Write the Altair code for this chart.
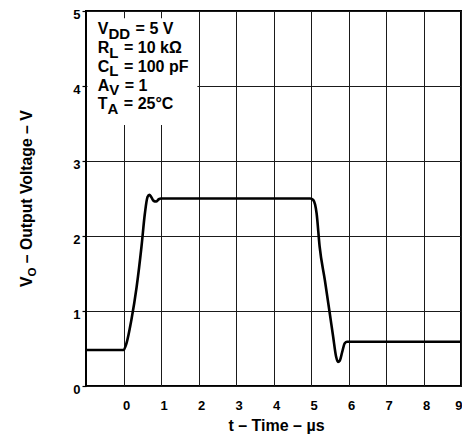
import altair as alt
import pandas as pd

# ---- data ----
t_us = [-1.0, 0.0, 0.08, 0.21, 0.35, 0.48, 0.57, 0.64, 0.69, 0.74, 0.80, 0.87, 0.94, 1.0,
        4.98, 5.06, 5.15, 5.23, 5.37, 5.50, 5.59, 5.67, 5.72, 5.77, 5.83, 5.90, 5.96, 9.0]
vo = [0.48, 0.48, 0.57, 0.88, 1.32, 1.86, 2.30, 2.52, 2.55, 2.52, 2.47, 2.46, 2.49, 2.50,
      2.50, 2.48, 2.30, 1.86, 1.41, 0.97, 0.66, 0.39, 0.32, 0.34, 0.45, 0.57, 0.59, 0.59]
x_ticks = [0, 1, 2, 3, 4, 5, 6, 7, 8, 9]
y_ticks = [0, 1, 2, 3, 4, 5]

cond_main = ["V", "R", "C", "A", "T"]
cond_sub = ["DD", "L", "L", "V", "A"]
cond_rest = ["= 5 V", "= 10 k\u03a9", "= 100 pF", "= 1", "= 25\u00b0C"]

FONT = "Liberation Sans"
# Arial-bold advance widths (em) used to place subscripts
W = {"V": .667, "D": .722, "R": .722, "L": .611, "C": .722, "A": .722, "T": .611, "O": .778,
     " ": .278}

def width(s, size):
    return sum(W[c] for c in s) * size

df = pd.DataFrame({"t": t_us, "v": vo})

xs = alt.Scale(domain=[-1, 9], nice=False, zero=False)
ys = alt.Scale(domain=[0, 5], nice=False, zero=False)

line = alt.Chart(df).mark_line(color="black", strokeWidth=2.6, interpolate="monotone").encode(
    x=alt.X("t:Q", scale=xs, title=None,
            axis=alt.Axis(values=x_ticks, grid=True, gridColor="#1a1a1a", gridWidth=1,
                          domain=False, tickSize=0, labelPadding=13, format="d",
                          labelFont=FONT, labelFontSize=13, labelFontWeight="bold",
                          labelColor="black", labelFlush=True, labelFlushOffset=-1.5,
                          labelOffset=2.5, labelOverlap=False)),
    y=alt.Y("v:Q", scale=ys, title=None,
            axis=alt.Axis(values=y_ticks, grid=True, gridColor="#1a1a1a", gridWidth=1,
                          domain=False, tickSize=4, tickColor="black", tickWidth=1.2,
                          labelPadding=2, labelFont=FONT, labelFontSize=13, format="d",
                          labelBaseline="top", labelOffset=-3, labelFontWeight="bold",
                          labelColor="black", labelFlush=False)),
)

# white box behind the test conditions
box = alt.Chart().mark_rect(color="white").encode(
    x=alt.datum(-0.96), x2=alt.datum(1.97), y=alt.datum(3.48), y2=alt.datum(4.905)
)

layers = [box, line]

MAIN, SUB, SUBDY = 16, 15, 4.5
x0 = -0.685
baselines = [4.689, 4.44, 4.19, 3.94, 3.69]
for m, s, r, yb in zip(cond_main, cond_sub, cond_rest, baselines):
    wm = width(m, MAIN)
    ws = width(s, SUB)
    gap = width(" ", MAIN) + 1
    for txt, size, dx, dy in [(m, MAIN, 0, 0), (s, SUB, wm, SUBDY), (r, MAIN, wm + ws + gap, 0)]:
        layers.append(
            alt.Chart().mark_text(text=txt, font=FONT, fontSize=size, fontWeight="bold",
                                  align="left", baseline="alphabetic", dx=dx, dy=dy,
                                  color="black")
            .encode(x=alt.datum(x0), y=alt.datum(yb))
        )

# y axis title with subscript (rotated)
YT, YS = 15.75, 11.5
wv = width("V", YT)
wo = width("O", YS)
gap_y = width(" ", YT)
for txt, size, dx, dy in [("V", YT, 0, 0), ("O", YS, wv, 4),
                          ("\u2013 Output Voltage \u2013 V", YT, wv + wo + gap_y, 0)]:
    layers.append(
        alt.Chart().mark_text(text=txt, font=FONT, fontSize=size, fontWeight="bold",
                              align="left", baseline="alphabetic", angle=270,
                              dx=dx, dy=dy, color="black")
        .encode(x=alt.value(-54), y=alt.value(276))
    )

# x axis title
layers.append(
    alt.Chart().mark_text(text="t \u2013 Time \u2013 \u00b5s", font=FONT, fontSize=16,
                          fontWeight="bold", align="center", baseline="alphabetic",
                          color="black")
    .encode(x=alt.value(190.5), y=alt.value(419.5))
)

chart = alt.layer(*layers).properties(
    width=375, height=375,
    autosize=alt.AutoSizeParams(type="none"),
    padding={"left": 78, "top": 3, "right": 1, "bottom": 48},
    background="white",
).configure_view(stroke="black", strokeWidth=2)

chart.save("out.html", embed_options={"renderer": "svg", "actions": False})
